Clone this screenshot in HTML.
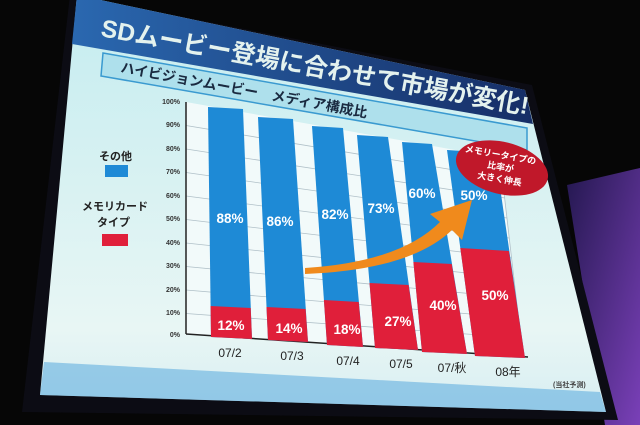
<!DOCTYPE html>
<html><head><meta charset="utf-8"><style>
html,body{margin:0;padding:0;background:#050505;}
svg{display:block}
text{font-family:"Liberation Sans","Noto Sans CJK JP",sans-serif;font-weight:bold}
</style></head><body>
<svg width="640" height="425" viewBox="0 0 640 425" xmlns="http://www.w3.org/2000/svg">
<defs>
<linearGradient id="pur" x1="0" y1="0" x2="1" y2="1">
<stop offset="0" stop-color="#241850"/><stop offset="1" stop-color="#7a40b8"/></linearGradient>
<linearGradient id="scr" x1="0" y1="0" x2="0" y2="1">
<stop offset="0" stop-color="#c4ecf0"/><stop offset="0.8" stop-color="#e8f6f4"/><stop offset="1" stop-color="#d8eef2"/></linearGradient>
<linearGradient id="band" x1="0" y1="0" x2="1" y2="0">
<stop offset="0" stop-color="#2a68b0"/><stop offset="1" stop-color="#162e66"/></linearGradient>
</defs>
<rect width="640" height="425" fill="#060606"/>
<polygon points="567,185 640,168 640,425 605,425" fill="url(#pur)"/>
<polygon points="70,-5 532,85 618,420 22,412" fill="#0c0c14"/>
<polygon points="77,-5 525,90 606,412 40,395" fill="url(#scr)"/>
<polygon points="44,362 600,392 606,412 40,395" fill="#4aa2dc" opacity="0.5"/>
<polygon points="77,-5 525,90 533,124 72,44" fill="url(#band)"/>
<text transform="translate(100,36) rotate(10.4)" font-size="24.5" fill="#e4f2ee">SDムービー登場に合わせて市場が変化!</text>
<polygon points="103,53 527,128 527,150 101,76" fill="#aee0ec" stroke="#3a9ad0" stroke-width="1.5"/>
<text transform="translate(120,72) rotate(10.5)" font-size="14" fill="#1a2a40">ハイビジョンムービー　メディア構成比</text>
<polygon points="186,102 500,158 523,357 186,334" fill="#f2fafa"/>
<g stroke="#b0c0c8" stroke-width="0.8">
<line x1="186" y1="125.5" x2="502" y2="178"/>
<line x1="186" y1="149" x2="505" y2="198"/>
<line x1="186" y1="172.5" x2="507" y2="218"/>
<line x1="186" y1="196" x2="509" y2="238"/>
<line x1="186" y1="219.5" x2="512" y2="258"/>
<line x1="186" y1="243" x2="514" y2="278"/>
<line x1="186" y1="266.5" x2="516" y2="298"/>
<line x1="186" y1="290" x2="518" y2="318"/>
<line x1="186" y1="313.5" x2="521" y2="338"/>
<line x1="500" y1="158" x2="523" y2="357"/>
</g>
<line x1="186" y1="102" x2="186" y2="334" stroke="#222" stroke-width="1.5"/>
<line x1="186" y1="334" x2="528" y2="357" stroke="#222" stroke-width="1.5"/>
<g font-size="7" fill="#333" text-anchor="end">
<text x="180" y="104">100%</text><text x="180" y="127">90%</text><text x="180" y="151">80%</text>
<text x="180" y="174">70%</text><text x="180" y="198">60%</text><text x="180" y="221">50%</text>
<text x="180" y="245">40%</text><text x="180" y="268">30%</text><text x="180" y="292">20%</text>
<text x="180" y="315">10%</text><text x="180" y="337">0%</text>
</g>
<polygon points="208,107 243,109 252,339 211,337" fill="#1e8ad6"/>
<polygon points="210.6,306 250.7,308 252,339 211,337" fill="#e01f3a"/>
<polygon points="258,117 293,119 308,342 268,340" fill="#1e8ad6"/>
<polygon points="266.5,307 305.6,309 308,342 268,340" fill="#e01f3a"/>
<polygon points="312,126 343,128 363,347 327,345" fill="#1e8ad6"/>
<polygon points="323.9,300 358.7,302 363,347 327,345" fill="#e01f3a"/>
<polygon points="357,135 388,137 418,350 375,348" fill="#1e8ad6"/>
<polygon points="369.5,283 408.6,285 418,350 375,348" fill="#e01f3a"/>
<polygon points="402,142 432,144 467,354 422,352" fill="#1e8ad6"/>
<polygon points="413.4,262 451.7,264 467,354 422,352" fill="#e01f3a"/>
<polygon points="447,150 495,153 525,358 475,356" fill="#1e8ad6"/>
<polygon points="460.3,248 508.9,251 525,358 475,356" fill="#e01f3a"/>
<g font-size="13.5" fill="#fff" text-anchor="middle">
<text x="230" y="223">88%</text><text x="280" y="226">86%</text><text x="335" y="219">82%</text>
<text x="381" y="213">73%</text><text x="422" y="198">60%</text><text x="474" y="200">50%</text>
<text x="231" y="330">12%</text><text x="289" y="333">14%</text><text x="347" y="334">18%</text>
<text x="398" y="326">27%</text><text x="443" y="310">40%</text><text x="495" y="300">50%</text>
</g>
<g font-size="12" fill="#222" text-anchor="middle">
<text x="230" y="357" style="font-weight:normal">07/2</text>
<text x="292" y="360" style="font-weight:normal">07/3</text>
<text x="348" y="365" style="font-weight:normal">07/4</text>
<text x="401" y="368" style="font-weight:normal">07/5</text>
<text x="452" y="372" style="font-weight:normal">07/秋</text>
<text x="508" y="376" style="font-weight:normal">08年</text>
</g>
<text x="553" y="387" font-size="7" fill="#444">(当社予測)</text>
<text x="99" y="160" font-size="11" fill="#222">その他</text>
<rect x="105" y="165" width="23" height="12" fill="#1e8ad6"/>
<text x="82" y="210" font-size="11" fill="#222">メモリカード</text>
<text x="97" y="226" font-size="11" fill="#222">タイプ</text>
<rect x="102" y="234" width="26" height="12" fill="#e01f3a"/>
<path d="M305,268 Q400,262 440,222 L430,214 L472,200 L462,240 L452,230 Q410,270 305,274 Z" fill="#f08a1c"/>
<ellipse cx="502" cy="168" rx="47" ry="26" fill="#c0182a" transform="rotate(14 502 168)"/>
<g font-size="9" fill="#fff" text-anchor="middle">
<text transform="translate(500,158) rotate(10)">メモリータイプの</text>
<text transform="translate(500,170) rotate(10)">比率が</text>
<text transform="translate(499,182) rotate(10)">大きく伸長</text>
</g>
</svg>
</body></html>
